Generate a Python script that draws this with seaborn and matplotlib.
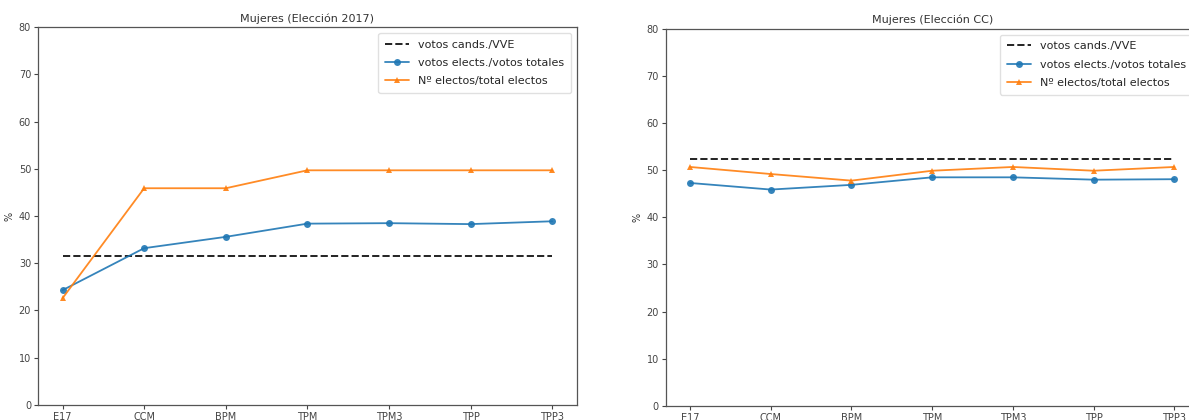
import matplotlib
matplotlib.use("Agg")
import matplotlib.pyplot as plt
import seaborn as sns
import pandas as pd

categories = ["E17", "CCM", "BPM", "TPM", "TPM3", "TPP", "TPP3"]

# Left panel: Mujeres (Elección 2017)
left_cands_vve = 31.5
left_votos_elects = [24.3, 33.2, 35.6, 38.4, 38.5, 38.3, 38.9]
left_electos = [22.6, 45.9, 45.9, 49.7, 49.7, 49.7, 49.7]

# Right panel: Mujeres (Elección CC)
right_cands_vve = 52.3
right_votos_elects = [47.3, 45.9, 46.9, 48.5, 48.5, 48.0, 48.1]
right_electos = [50.7, 49.2, 47.8, 49.9, 50.7, 49.9, 50.7]

titles = ["Mujeres (Elección 2017)", "Mujeres (Elección CC)"]

sns.set_style("ticks")
plt.rcParams["font.family"] = ["DejaVu Sans"]

fig = plt.figure(figsize=(11.89, 4.2), dpi=100)
ax1 = fig.add_axes([0.032, 0.036, 0.453, 0.899])
ax2 = fig.add_axes([0.560, 0.034, 0.448, 0.897])

panels = [
    (ax1, left_cands_vve, left_votos_elects, left_electos, titles[0]),
    (ax2, right_cands_vve, right_votos_elects, right_electos, titles[1]),
]

for ax, cvve, ve, el, title in panels:
    df = pd.DataFrame({
        "cat": categories,
        "vve": [cvve] * len(categories),
        "ve": ve,
        "el": el,
    })
    sns.lineplot(data=df, x="cat", y="vve", ax=ax, color="#222222",
                 linestyle="--", linewidth=1.4, label="votos cands./VVE", sort=False)
    sns.lineplot(data=df, x="cat", y="ve", ax=ax, color="#1f77b4",
                 marker="o", markersize=5, markeredgewidth=0, linewidth=1.3,
                 alpha=0.9, label="votos elects./votos totales", sort=False)
    sns.lineplot(data=df, x="cat", y="el", ax=ax, color="#ff7f0e",
                 marker="^", markersize=5, markeredgewidth=0, linewidth=1.3,
                 alpha=0.9, label="Nº electos/total electos", sort=False)
    ax.set_ylim(0, 80)
    ax.set_yticks(range(0, 81, 10))
    ax.set_xlabel("")
    ax.set_ylabel("%", fontsize=7, color="#333333", labelpad=3)
    ax.set_title(title, fontsize=8, color="#333333", pad=4)
    ax.tick_params(labelsize=7, colors="#444444", length=3, pad=2)
    for s in ax.spines.values():
        s.set_color("#555555")
        s.set_linewidth(0.9)
    ax.legend(loc="upper right", fontsize=8, frameon=True, framealpha=0.9,
              edgecolor="#dddddd", handlelength=2.2, labelspacing=0.75,
              borderpad=0.6)

fig.savefig("out.png", dpi=100)
